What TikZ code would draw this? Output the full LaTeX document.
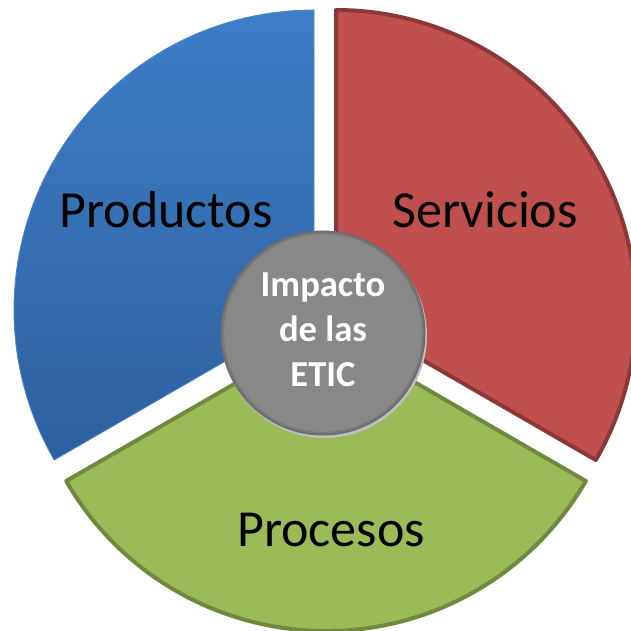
\documentclass[tikz,border=0pt]{standalone}
\usepackage{fontspec}
\setmainfont{Carlito}
\usepackage{tikz}
\usetikzlibrary{calc}

\begin{document}
\begin{tikzpicture}[x=1pt,y=1pt]
    % Define colors
    \definecolor{prodtop}{RGB}{61, 126, 199}
    \definecolor{prodbottom}{RGB}{46, 96, 158}
    \definecolor{prodedge}{RGB}{74, 133, 203}
    \definecolor{servfill}{RGB}{192, 80, 77}
    \definecolor{servedge}{RGB}{140, 56, 54}
    \definecolor{procfill}{RGB}{155, 187, 89}
    \definecolor{procedge}{RGB}{113, 137, 63}
    \definecolor{eticfill}{RGB}{136, 136, 136}
    \definecolor{eticedge}{RGB}{110, 110, 110}

    \def\radius{300}
    \def\eticradius{101.5}

    \useasboundingbox (0,0) rectangle (631,631);
    \clip (0,0) rectangle (631,631);

    % Apex of each slice
    \coordinate (p0) at (314,321);
    \coordinate (s0) at (336,321);
    \coordinate (q0) at (326,300);
    \coordinate (m0) at (323,298);

    % Draw the slices
    \shade[top color=prodtop, bottom color=prodbottom]
        (p0) -- ++(90:\radius) arc[start angle=90, end angle=210, radius=\radius] -- cycle;
    \draw[prodedge, line width=0.8pt]
        (p0) -- ++(90:\radius) arc[start angle=90, end angle=210, radius=\radius] -- cycle;
    \draw[servedge, fill=servfill, line width=4pt, line join=round]
        (s0) -- ++(-30:\radius) arc[start angle=-30, end angle=90, radius=\radius] -- cycle;
    \draw[procedge, fill=procfill, line width=4pt, line join=round]
        (q0) -- ++(210:\radius) arc[start angle=210, end angle=330, radius=\radius] -- cycle;

    % Draw the centre disc
    \fill[black!25] ($(m0)+(1.5,-2.5)$) circle (\eticradius+1);
    \draw[eticedge, fill=eticfill, line width=2pt] (m0) circle (\eticradius);
    \draw[eticedge!60!eticfill, line width=1.5pt] (m0) circle (\eticradius-1.75);

    % Labels
    \node (prod) at (166,421) {\fontsize{52}{62}\selectfont Productos};
    \node (serv) at (485,421) {\fontsize{52}{62}\selectfont Servicios};
    \node (proc) at (331,101) {\fontsize{52}{62}\selectfont Procesos};
    \node[white, align=center, font=\bfseries\fontsize{36.6}{45}\selectfont] (etic) at (323,301) {Impacto\\de las\\ETIC};
\end{tikzpicture}
\end{document}
